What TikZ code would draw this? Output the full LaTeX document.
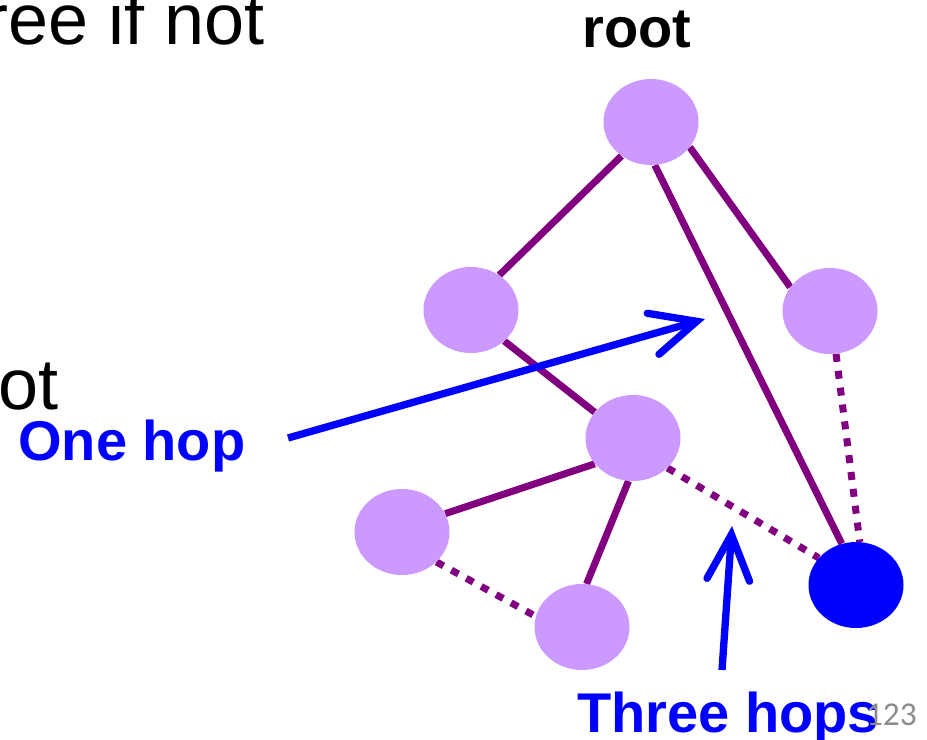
\documentclass[tikz,border=0pt]{standalone}
\usepackage{fontspec}
\setmainfont{Liberation Sans}
\newfontfamily\slidenumfont{Carlito}
\usetikzlibrary{shapes.geometric,arrows.meta}
\definecolor{edgepurple}{HTML}{800080}
\definecolor{nodelilac}{HTML}{CC99FF}
\definecolor{hopblue}{HTML}{0000FF}
\definecolor{numgray}{HTML}{8C8C8C}
\pgfdeclarelayer{bg}
\pgfsetlayers{bg,main}
\begin{document}
\begin{tikzpicture}[x=0.75pt,y=-0.75pt,
  treenode/.style={ellipse, fill=nodelilac, minimum width=71.25pt, minimum height=64.5pt, inner sep=0pt},
  targetnode/.style={treenode, fill=hopblue},
  treeedge/.style={draw=edgepurple, line width=5.25pt},
  backedge/.style={treeedge, dash pattern=on 6pt off 6.75pt},
  hoparrow/.style={draw=hopblue, line width=5.5pt, -{Straight Barb[length=34pt,width=32pt,line cap=round]}},
  bigtext/.style={inner sep=0pt, font=\fontsize{54pt}{60pt}\selectfont},
  labeltext/.style={inner sep=0pt, font=\fontsize{42pt}{48pt}\selectfont\bfseries}
]
\useasboundingbox (0,0) rectangle (927,739);
\clip (0,0) rectangle (927,739);

\node[treenode] (root) at (651,122) {};
\node[treenode] (A) at (471,310) {};
\node[treenode] (B) at (830,311) {};
\node[treenode] (C) at (633,438) {};
\node[treenode] (D) at (402,532) {};
\node[treenode] (E) at (582,627) {};
\node[targetnode] (F) at (856,585) {};

\begin{pgfonlayer}{bg}
\draw[treeedge] (root.-131) -- (A.51);
\draw[treeedge] (root.-85) -- (F.109);
\draw[treeedge] (root.-33) -- (B.149);
\draw[backedge] (B.-82) -- (F.85);
\draw[treeedge] (A.-43) -- (C.146);
\draw[treeedge] (C.-146) -- (D.23);
\draw[treeedge] (C.-96) -- (E.84);
\draw[backedge] (D.-41) -- (E.167);
\draw[backedge] (C.-41) -- (F.144);
\end{pgfonlayer}

\coordinate (onehopstart) at (288,438);
\coordinate (onehoptip) at (705,319);
\draw[hoparrow] (onehopstart) -- (onehoptip);
\coordinate (threehopsstart) at (722,670);
\coordinate (threehopstip) at (732,526);
\draw[hoparrow] (threehopsstart) -- (threehopstip);

\node[bigtext, anchor=base east] (treeif) at (265,44) {ree if not};
\node[bigtext, anchor=base east] (ot) at (58.5,409) {ot};
\node[labeltext, anchor=base] (rootlabel) at (637,47) {root};
\node[labeltext, text=hopblue, anchor=base west] (onehop) at (18,460) {One hop};
\node[labeltext, text=hopblue, anchor=base west] (threehops) at (577,732) {Three hops};
\node[inner sep=0pt, text=numgray, font=\slidenumfont\fontsize{25pt}{30pt}\selectfont, anchor=base east] (pagenum) at (917,725) {123};
\end{tikzpicture}
\end{document}
